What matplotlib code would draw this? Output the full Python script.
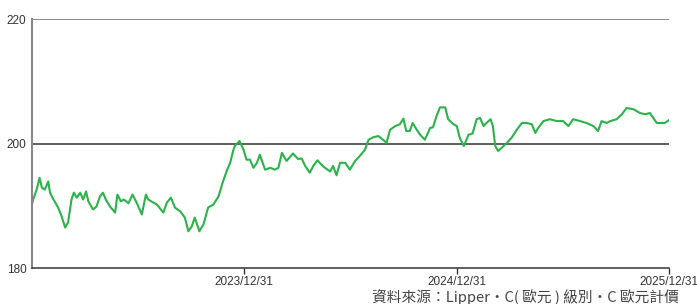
import numpy as np
import pandas as pd
import matplotlib
matplotlib.use("Agg")
import matplotlib.pyplot as plt

# NAV series
dates = [
    "2022-12-31", "2023-01-02", "2023-01-08", "2023-01-13", "2023-01-17", "2023-01-22",
    "2023-01-28", "2023-01-31", "2023-02-06", "2023-02-14", "2023-02-20", "2023-02-26",
    "2023-03-03", "2023-03-09", "2023-03-13", "2023-03-18", "2023-03-24", "2023-03-29",
    "2023-04-03", "2023-04-07", "2023-04-15", "2023-04-21", "2023-04-27", "2023-05-02",
    "2023-05-07", "2023-05-14", "2023-05-23", "2023-05-27", "2023-06-02", "2023-06-07",
    "2023-06-15", "2023-06-22", "2023-06-29", "2023-07-08", "2023-07-15", "2023-07-19",
    "2023-07-28", "2023-08-03", "2023-08-14", "2023-08-20", "2023-08-27", "2023-09-03",
    "2023-09-12", "2023-09-20", "2023-09-26", "2023-10-02", "2023-10-07", "2023-10-15",
    "2023-10-22", "2023-10-30", "2023-11-08", "2023-11-17", "2023-11-24", "2023-12-01",
    "2023-12-07", "2023-12-12", "2023-12-15", "2023-12-23", "2023-12-30", "2024-01-04",
    "2024-01-10", "2024-01-16", "2024-01-22", "2024-01-27", "2024-02-05", "2024-02-14",
    "2024-02-22", "2024-02-28", "2024-03-05", "2024-03-13", "2024-03-24", "2024-04-02",
    "2024-04-08", "2024-04-14", "2024-04-22", "2024-04-28", "2024-05-05", "2024-05-12",
    "2024-05-18", "2024-05-27", "2024-06-01", "2024-06-07", "2024-06-13", "2024-06-22",
    "2024-06-30", "2024-07-09", "2024-07-17", "2024-07-26", "2024-08-01", "2024-08-09",
    "2024-08-18", "2024-08-26", "2024-09-01", "2024-09-07", "2024-09-16", "2024-09-24",
    "2024-09-30", "2024-10-05", "2024-10-11", "2024-10-16", "2024-10-23", "2024-10-29",
    "2024-11-06", "2024-11-15", "2024-11-20", "2024-11-26", "2024-12-02", "2024-12-11",
    "2024-12-16", "2024-12-25", "2024-12-31", "2025-01-05", "2025-01-12", "2025-01-20",
    "2025-01-27", "2025-02-03", "2025-02-09", "2025-02-15", "2025-02-20", "2025-02-27",
    "2025-03-03", "2025-03-07", "2025-03-12", "2025-03-18", "2025-03-27", "2025-04-04",
    "2025-04-13", "2025-04-22", "2025-04-30", "2025-05-09", "2025-05-15", "2025-05-20",
    "2025-05-29", "2025-06-09", "2025-06-21", "2025-07-02", "2025-07-11", "2025-07-19",
    "2025-07-31", "2025-08-11", "2025-08-23", "2025-08-31", "2025-09-06", "2025-09-15",
    "2025-09-21", "2025-10-02", "2025-10-11", "2025-10-19", "2025-10-31", "2025-11-11",
    "2025-11-20", "2025-11-28", "2025-12-04", "2025-12-10", "2025-12-18", "2025-12-24",
    "2025-12-30",
]
nav = [
    190.2, 191.0, 192.6, 194.5, 192.9, 192.6,
    193.9, 192.1, 191.0, 189.7, 188.3, 186.5,
    187.3, 191.0, 192.1, 191.3, 192.1, 191.0,
    192.3, 190.7, 189.4, 189.9, 191.5, 192.1,
    191.0, 189.9, 188.9, 191.8, 190.7, 191.0,
    190.4, 191.8, 190.5, 188.6, 191.8, 191.0,
    190.5, 190.2, 188.9, 190.5, 191.3, 189.7,
    189.1, 188.1, 185.9, 186.7, 188.1, 185.9,
    187.0, 189.7, 190.2, 191.5, 193.7, 195.6,
    196.9, 198.8, 199.6, 200.4, 199.0, 197.4,
    197.4, 196.1, 196.9, 198.2, 195.8, 196.1,
    195.8, 196.1, 198.5, 197.2, 198.4, 197.5,
    197.6, 196.4, 195.3, 196.4, 197.3, 196.6,
    196.1, 195.5, 196.4, 194.9, 196.9, 196.9,
    195.8, 197.2, 198.0, 199.0, 200.6, 201.0,
    201.2, 200.6, 200.1, 202.2, 202.8, 203.1,
    204.0, 202.0, 202.0, 203.3, 202.2, 201.4,
    200.6, 202.5, 202.6, 204.4, 205.8, 205.8,
    203.9, 203.1, 202.8, 200.9, 199.6, 201.4,
    201.6, 203.9, 204.1, 202.8, 203.3, 203.9,
    202.8, 199.6, 198.8, 199.3, 200.1, 200.9,
    202.2, 203.3, 203.3, 203.1, 201.7, 202.5,
    203.6, 203.9, 203.6, 203.6, 202.8, 203.9,
    203.6, 203.3, 202.8, 202.0, 203.6, 203.3,
    203.6, 203.9, 204.7, 205.7, 205.5, 204.9,
    204.7, 204.9, 204.1, 203.3, 203.3, 203.3,
    203.7,
]
x_ticks = ["2023-12-31", "2024-12-31", "2025-12-31"]
x_labels = ["2023/12/31", "2024/12/31", "2025/12/31"]
y_ticks = [180, 200, 220]
footer = "資料來源：Lipper・C( 歐元 ) 級別・C 歐元計價"

plt.rcParams["font.family"] = ["Liberation Sans", "DejaVu Sans"]

fig = plt.figure(figsize=(6.97, 3.04), dpi=100)
ax = fig.add_axes([0.0459, 0.1184, 0.9139, 0.8191])

ax.plot(pd.to_datetime(dates), nav, color="#2bb34b", linewidth=1.5)

ax.set_ylim(180, 220)
ax.set_xlim(pd.Timestamp("2022-12-31"), pd.Timestamp("2025-12-31"))
ax.set_yticks(y_ticks)
ax.set_xticks(pd.to_datetime(x_ticks))
ax.set_xticklabels(x_labels)

ax.axhline(200, color="#333333", linewidth=1.1, zorder=1)
ax.axhline(220, color="#808080", linewidth=1.3, zorder=1)

for side in ["top", "right"]:
    ax.spines[side].set_visible(False)
ax.spines["left"].set_color("#888888")
ax.spines["left"].set_linewidth(1.5)
ax.spines["bottom"].set_color("#333333")
ax.spines["bottom"].set_linewidth(1.1)

ax.tick_params(axis="y", length=0, pad=4, labelsize=8.5, labelcolor="#333333")
ax.tick_params(axis="x", length=4, width=1, color="#333333", pad=2,
               labelsize=8.5, labelcolor="#333333")

# footer sits in the bottom-right corner, kept just inside the canvas
fig.text(372 / 697, 2 / 304, footer, fontsize=10.6, color="#444444",
         ha="left", va="baseline",
         family=["Noto Sans CJK TC", "Liberation Sans", "DejaVu Sans"])

fig.savefig("out.png", dpi=100)
